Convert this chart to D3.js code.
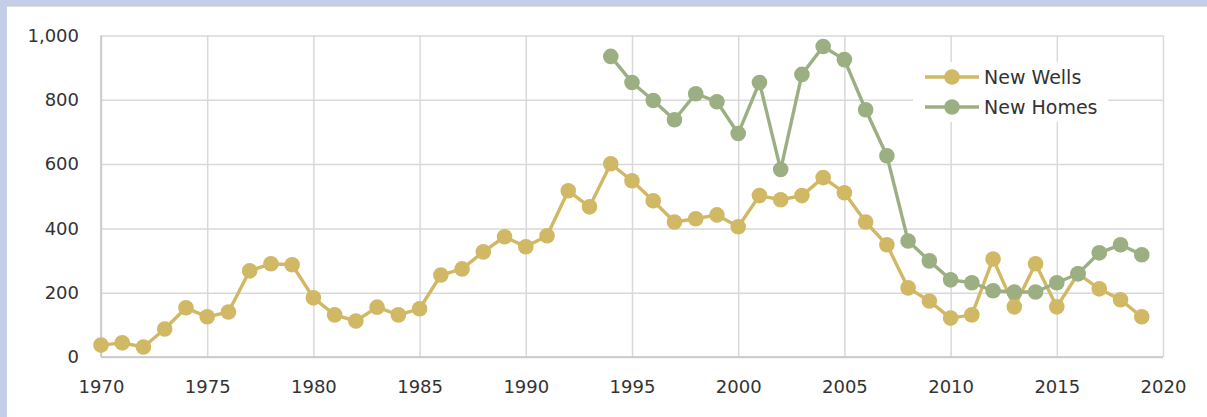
<!DOCTYPE html>
<html>
<head>
<meta charset="utf-8">
<script src="https://cdn.jsdelivr.net/npm/d3@7"></script>
<style>
  body { margin: 0; background: #fff; }
  svg { display: block; }
</style>
</head>
<body>
<div id="chart"></div>
<script>
// Years for each series
const wellYears = d3.range(1970, 2020);
const homeYears = d3.range(1994, 2020);

// New wells per year, 1970-2019
const newWells = [
  37, 44, 31, 87, 153, 125, 140, 268, 290, 287,
  184, 131, 112, 155, 131, 150, 255, 274, 327, 374,
  343, 377, 517, 467, 601, 548, 486, 420, 430, 442,
  405, 502, 489, 502, 558, 511, 420, 349, 215, 174,
  121, 131, 305, 156, 290, 156, 259, 212, 178, 125
];

// New homes per year, 1994-2019
const newHomes = [
  935, 854, 798, 738, 819, 794, 695, 854, 583, 879,
  966, 925, 769, 626, 361, 299, 240, 231, 206, 202,
  202, 231, 259, 324, 349, 318
];

const yTicks = [0, 200, 400, 600, 800, 1000];
const xTicks = [1970, 1975, 1980, 1985, 1990, 1995, 2000, 2005, 2010, 2015, 2020];

const width = 1207;
const height = 417;
const margin = { top: 35.5, right: 44, bottom: 60, left: 101 };
const innerW = width - margin.left - margin.right;
const innerH = height - margin.top - margin.bottom;

const wellColor = '#d1b865';
const homeColor = '#9caf82';
const font = "'DejaVu Sans', 'Noto Sans', sans-serif";

const root = d3.select('#chart').append('svg')
  .attr('width', width)
  .attr('height', height)
  .style('font-family', font);

// Frame: blue band across top and left side
root.append('rect').attr('x', 0).attr('y', 0).attr('width', width).attr('height', 6).attr('fill', '#c4cee9');
root.append('rect').attr('x', 0).attr('y', 0).attr('width', 7).attr('height', height).attr('fill', '#c4cee9');
root.append('line').attr('x1', 7).attr('x2', width).attr('y1', 6.5).attr('y2', 6.5)
  .attr('stroke', '#dedede').attr('stroke-width', 1);

const svg = root.append('g')
  .attr('transform', `translate(${margin.left},${margin.top})`);

const x = d3.scaleLinear().domain([1970, 2020]).range([0, innerW]);
const y = d3.scaleLinear().domain([0, 1000]).range([innerH, 0]);

// Horizontal gridlines
svg.append('g')
  .call(d3.axisLeft(y).tickValues(yTicks).tickSize(-innerW).tickFormat(''))
  .call(g => g.select('.domain').remove())
  .call(g => g.selectAll('.tick line').attr('stroke', '#d9d9d9').attr('stroke-width', 1.5));

// Vertical gridlines
svg.append('g')
  .attr('transform', `translate(0,${innerH})`)
  .call(d3.axisBottom(x).tickValues(xTicks).tickSize(-innerH).tickFormat(''))
  .call(g => g.select('.domain').remove())
  .call(g => g.selectAll('.tick line').attr('stroke', '#d9d9d9').attr('stroke-width', 1.5));

// Axis lines
svg.append('line').attr('x1', 0).attr('x2', 0).attr('y1', 0).attr('y2', innerH)
  .attr('stroke', '#c4c4c4').attr('stroke-width', 1.5);
svg.append('line').attr('x1', 0).attr('x2', innerW).attr('y1', innerH).attr('y2', innerH)
  .attr('stroke', '#c4c4c4').attr('stroke-width', 1.5);

// Y tick labels
svg.append('g')
  .call(d3.axisLeft(y).tickValues(yTicks).tickSize(0).tickFormat(d3.format(',')))
  .call(g => g.select('.domain').remove())
  .call(g => g.selectAll('.tick text')
    .attr('x', -22)
    .attr('fill', '#333')
    .attr('font-size', '18px')
    .attr('font-family', font));

// X tick labels
svg.append('g')
  .attr('transform', `translate(0,${innerH})`)
  .call(d3.axisBottom(x).tickValues(xTicks).tickSize(0).tickFormat(d3.format('d')))
  .call(g => g.select('.domain').remove())
  .call(g => g.selectAll('.tick text')
    .attr('y', 23)
    .attr('fill', '#333')
    .attr('font-size', '18px')
    .attr('font-family', font));

const drawSeries = (years, values, color) => {
  const pts = years.map((yr, i) => ({ year: yr, value: values[i] }));
  const line = d3.line().x(d => x(d.year)).y(d => y(d.value));
  svg.append('path')
    .datum(pts)
    .attr('fill', 'none')
    .attr('stroke', color)
    .attr('stroke-width', 3.4)
    .attr('stroke-linejoin', 'round')
    .attr('d', line);
  svg.append('g')
    .selectAll('circle')
    .data(pts)
    .join('circle')
    .attr('cx', d => x(d.year))
    .attr('cy', d => y(d.value))
    .attr('r', 7.8)
    .attr('fill', color);
};

drawSeries(wellYears, newWells, wellColor);
drawSeries(homeYears, newHomes, homeColor);

// Legend
const legend = root.append('g').attr('transform', 'translate(913,62)');
legend.append('rect')
  .attr('width', 195).attr('height', 60)
  .attr('fill', '#fff');
const items = [
  { label: 'New Wells', color: wellColor },
  { label: 'New Homes', color: homeColor }
];
items.forEach((d, i) => {
  const g = legend.append('g').attr('transform', `translate(0,${15 + i * 30})`);
  g.append('line').attr('x1', 12).attr('x2', 66).attr('y1', 0).attr('y2', 0)
    .attr('stroke', d.color).attr('stroke-width', 3.4);
  g.append('circle').attr('cx', 39).attr('cy', 0).attr('r', 7.8).attr('fill', d.color);
  g.append('text')
    .attr('x', 71).attr('y', 0).attr('dy', '0.35em')
    .attr('font-size', '19px')
    .attr('fill', '#333')
    .text(d.label);
});
</script>
</body>
</html>
